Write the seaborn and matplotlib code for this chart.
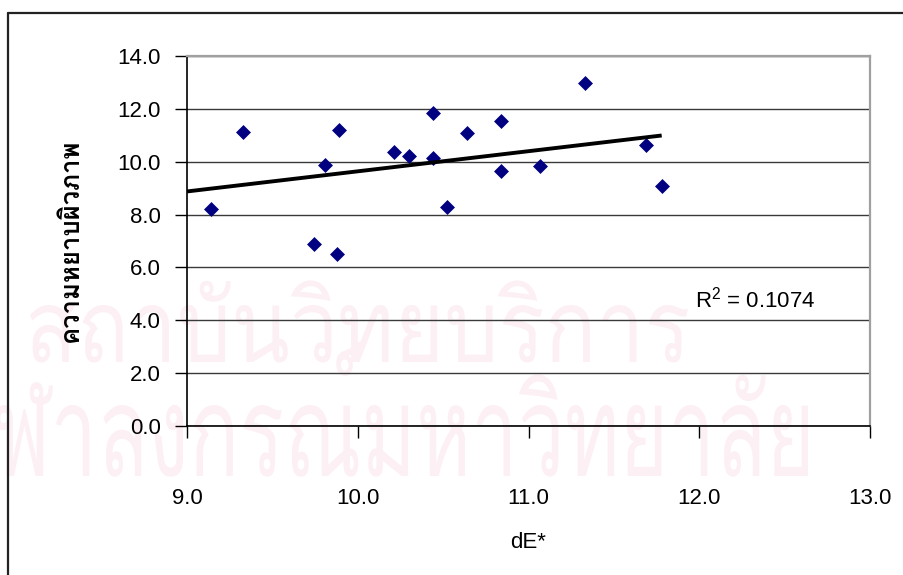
import numpy as np
import pandas as pd
import matplotlib
matplotlib.use("Agg")
import matplotlib.pyplot as plt
import seaborn as sns
from matplotlib.textpath import TextPath
from matplotlib.patches import PathPatch
from matplotlib.font_manager import FontProperties
from matplotlib.transforms import Affine2D, IdentityTransform
from matplotlib.lines import Line2D

# ---- data -------------------------------------------------------------
de_star = [9.14, 9.33, 9.745, 9.81, 9.88, 9.89, 10.21, 10.30, 10.44,
           10.44, 10.52, 10.64, 10.84, 10.84, 11.07, 11.33, 11.69, 11.78]
roughness = [8.21, 11.14, 6.87, 9.86, 6.51, 11.20, 10.36, 10.22, 11.85,
             10.15, 8.30, 11.07, 11.55, 9.65, 9.85, 12.98, 10.63, 9.07]
x_ticks = [9.0, 10.0, 11.0, 12.0, 13.0]
y_ticks = [0.0, 2.0, 4.0, 6.0, 8.0, 10.0, 12.0, 14.0]
x_label = "dE*"
y_label = "ความหยาบผิวภาพ"
r2_value = "0.1074"
watermark_lines = ["สถาบันวิทยบริการ", "จุฬาลงกรณ์มหาวิทยาลัย"]

df = pd.DataFrame({"dE": de_star, "rough": roughness})

# ---- figure -----------------------------------------------------------
W, H = 904, 575
sns.set_theme(style="white")
plt.rcParams["font.family"] = ["Liberation Sans", "DejaVu Sans"]
plt.rcParams["mathtext.fontset"] = "custom"
plt.rcParams["mathtext.rm"] = "Liberation Sans"

fig = plt.figure(figsize=(W / 100, H / 100), dpi=100, facecolor="white")


def px_box(left, top, right, bottom):
    return [left / W, 1 - bottom / H, (right - left) / W, (bottom - top) / H]


# pale page watermark behind the chart (pixel placement)
thai_fp = FontProperties(family="Loma")
wm_color = "#fcf0f5"


def add_watermark(text, visible, right_px, left_px, body_top, body_bottom):
    full = TextPath((0, 0), text, size=100, prop=thai_fp)
    part = TextPath((0, 0), visible, size=100, prop=thai_fp)
    body = TextPath((0, 0), "า", size=100, prop=thai_fp).get_extents()
    pe = part.get_extents()
    fe = full.get_extents()
    sx = (right_px - left_px) / pe.width
    sy = (body_bottom - body_top) / body.height
    tx = right_px - fe.x1 * sx
    ty = (H - body_bottom) - body.y0 * sy
    tr = Affine2D().scale(sx, sy).translate(tx, ty)
    patch = PathPatch(tr.transform_path(full), facecolor=wm_color,
                      edgecolor="none", zorder=-5)
    patch.set_transform(IdentityTransform())
    fig.add_artist(patch)


add_watermark(watermark_lines[0], watermark_lines[0], 688, 30, 305, 362)
add_watermark(watermark_lines[1], watermark_lines[1][2:], 808, -4, 405, 476)

ax = fig.add_axes(px_box(187, 56, 870, 426))
ax.set_facecolor("none")

# scatter points
sns.scatterplot(data=df, x="dE", y="rough", marker="D", s=58,
                color="#000080", linewidth=0, ax=ax, zorder=3)

# linear trendline
coef = np.polyfit(df["dE"], df["rough"], 1)
xs = np.array([x_ticks[0], max(de_star)])
ax.plot(xs, np.polyval(coef, xs), color="black", lw=2.8, zorder=4,
        solid_capstyle="butt")

ax.set_xlim(x_ticks[0], x_ticks[-1])
ax.set_ylim(y_ticks[0], y_ticks[-1])
ax.set_xticks(x_ticks)
ax.set_yticks(y_ticks)
ax.set_xticklabels([f"{v:.1f}" for v in x_ticks])
ax.set_yticklabels([f"{v:.1f}" for v in y_ticks])
ax.set_xlabel("")
ax.set_ylabel("")

ax.grid(axis="y", color="#3a3a3a", lw=1.0)
ax.grid(axis="x", visible=False)
ax.tick_params(axis="both", which="major", direction="out", length=8.5,
               width=1.0, color="black", labelsize=16, labelcolor="black",
               bottom=True, left=True)
ax.tick_params(axis="y", pad=10.5)
ax.tick_params(axis="x", pad=36)

for side in ("top", "right"):
    ax.spines[side].set_color("#a0a0a0")
    ax.spines[side].set_linewidth(1.6)
for side in ("left", "bottom"):
    ax.spines[side].set_color("black")
    ax.spines[side].set_linewidth(1.2)

# R-squared annotation
ax.text(11.975, 4.50, r"R$^{\mathrm{2}}$ = " + r2_value, fontsize=16,
        ha="left", va="baseline", color="black")

# axis titles
fig.text(528 / W, 1 - 543 / H, x_label, ha="center", va="center",
         fontsize=16, color="black")
fig.text(71 / W, 1 - 240 / H, y_label, rotation=90, ha="center",
         va="center", fontsize=18.5, fontweight="bold", color="black",
         family=["Loma", "DejaVu Sans"])

# page frame
fig.add_artist(Line2D([7.5 / W, 7.5 / W], [0, 1 - 13 / H],
                      transform=fig.transFigure, color="#222222", lw=1.6))
fig.add_artist(Line2D([7.5 / W, 1], [1 - 13 / H, 1 - 13 / H],
                      transform=fig.transFigure, color="#222222", lw=1.6))

fig.savefig("out.png", dpi=100, facecolor="white")
